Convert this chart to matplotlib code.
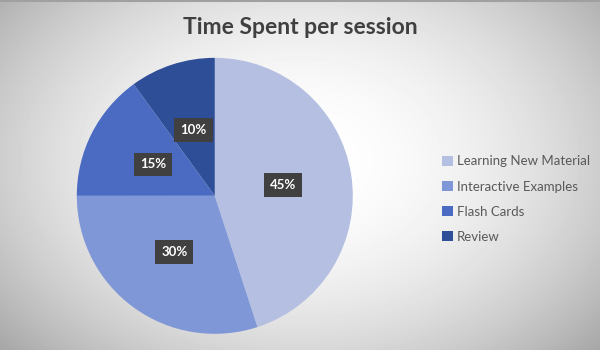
import numpy as np
import matplotlib.pyplot as plt

plt.rcParams['font.family'] = ['Lato', 'DejaVu Sans']

categories = ['Learning New Material', 'Interactive Examples', 'Flash Cards', 'Review']
shares = [45, 30, 15, 10]
colors = ['#B4BFE2', '#7F97D6', '#4A6BC1', '#2E4E98']

fig = plt.figure(figsize=(6, 3.5), dpi=100)

# radial gray background
bg = fig.add_axes([0, 0, 1, 1])
yy, xx = np.mgrid[0:350, 0:600]
d = np.sqrt(((xx - 300) / 340.0) ** 2 + ((yy - 160) / 240.0) ** 2)
shade = 1.0 - 0.25 * np.clip(d, 0, 1.4) ** 2.0
bg.imshow(shade, cmap='gray', vmin=0, vmax=1, aspect='auto', extent=[0, 1, 0, 1])
bg.axhline(0.997, color='#A0A0A0', lw=1.5)
bg.set_axis_off()

ax = fig.add_axes([0.128, 0.046, 0.46, 0.789])
wedges, texts, autotexts = ax.pie(shares, colors=colors, startangle=90, counterclock=False,
                                  autopct='%d%%', pctdistance=0.5,
                                  wedgeprops=dict(linewidth=0))
for t in autotexts:
    t.set_color('white')
    t.set_fontweight('bold')
    t.set_fontsize(9.5)
    t.set_bbox(dict(boxstyle='square,pad=0.45', facecolor='#404040', edgecolor='none'))
ax.set_xlim(-1, 1)
ax.set_ylim(-1, 1)
ax.set_aspect('equal')

fig.text(0.5, 0.922, 'Time Spent per session', ha='center', va='center',
         fontsize=16.5, fontweight='bold', color='#404040')

fig.legend(wedges, categories, loc='upper left', bbox_to_anchor=(0.717, 0.59),
           frameon=False, fontsize=9.5, labelcolor='#595959',
           handlelength=0.8, handleheight=0.8, handletextpad=0.35, labelspacing=1.0)

fig.savefig('out.png', dpi=100)
